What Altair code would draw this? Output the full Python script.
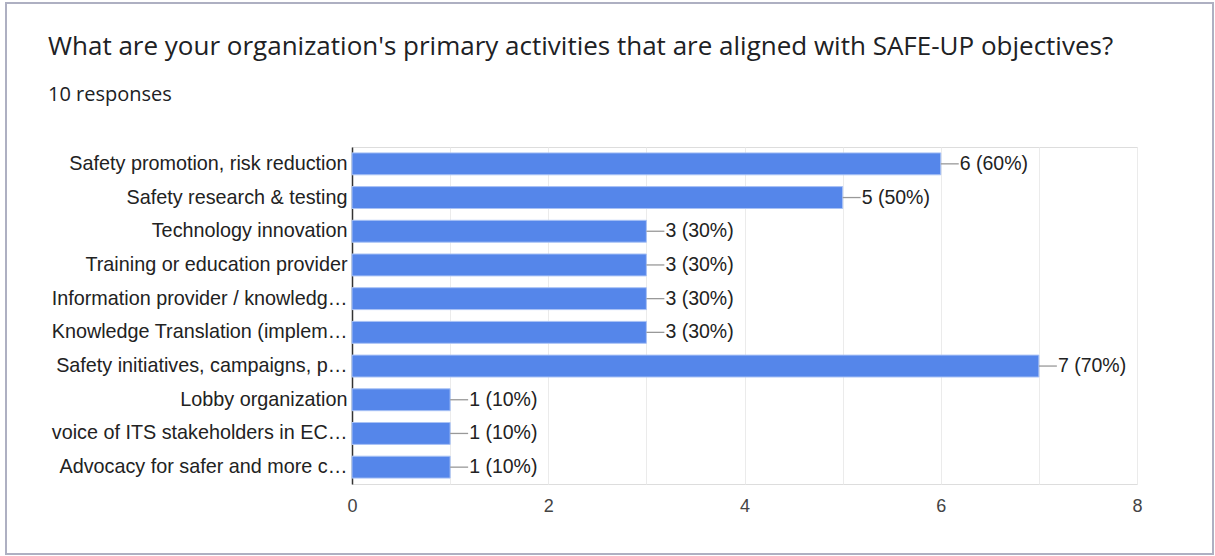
import altair as alt
import pandas as pd

categories = [
    "Safety promotion, risk reduction",
    "Safety research & testing",
    "Technology innovation",
    "Training or education provider",
    "Information provider / knowledg…",
    "Knowledge Translation (implem…",
    "Safety initiatives, campaigns, p…",
    "Lobby organization",
    "voice of ITS stakeholders in EC…",
    "Advocacy for safer and more c…",
]
counts = [6, 5, 3, 3, 3, 3, 7, 1, 1, 1]
percents = [60, 50, 30, 30, 30, 30, 70, 10, 10, 10]
x_ticks = [0, 1, 2, 3, 4, 5, 6, 7, 8]
title_text = "What are your organization's primary activities that are aligned with SAFE-UP objectives?"
subtitle_text = "10 responses"

df = pd.DataFrame({"cat": categories, "count": counts, "pct": percents})
df["label"] = [f"{c} ({p}%)" for c, p in zip(counts, percents)]

W, H = 785, 337
LEFT, TOP = 352, 147

y_enc = alt.Y(
    "cat:N",
    sort=categories,
    title=None,
    scale=alt.Scale(paddingInner=0.35, paddingOuter=0.175),
    axis=alt.Axis(
        labelFont="Liberation Sans", labelFontSize=19.8, labelColor="#222222",
        labelPadding=5, ticks=False, domainColor="#333333", domainWidth=1.5,
        labelLimit=340,
    ),
)
x_enc = alt.X(
    "count:Q",
    title=None,
    scale=alt.Scale(domain=[0, 8], nice=False),
    axis=alt.Axis(
        values=x_ticks, format="d",
        labelExpr="datum.value % 2 == 0 ? datum.label : ''",
        labelFont="Liberation Sans", labelFontSize=18, labelColor="#444444",
        labelPadding=13, ticks=False, domain=False, labelFlush=False,
        grid=True, gridColor="#ebebeb", gridWidth=1,
    ),
)

base = alt.Chart(df)

bars = base.mark_bar(color="#5586ea", stroke="#a9c2f5", strokeWidth=1).encode(
    x=x_enc, y=y_enc
)

leaders = base.mark_rule(color="#999999", strokeWidth=1.3, x2Offset=18).encode(
    x="count:Q", x2="count:Q", y=alt.Y("cat:N", sort=categories, bandPosition=0.5)
)

labels = base.mark_text(
    align="left", baseline="middle", dx=19, font="Liberation Sans",
    fontSize=19.5, color="#222222",
).encode(x="count:Q", y=alt.Y("cat:N", sort=categories, bandPosition=0.5), text="label:N")

frame = base.mark_rect(
    fill=None, stroke="#aeb0c2", strokeWidth=2, filled=False
).encode(
    x=alt.value(6 - LEFT), x2=alt.value(1213 - LEFT),
    y=alt.value(3 - TOP), y2=alt.value(554 - TOP),
)

title = alt.Chart(pd.DataFrame({"t": [title_text]})).mark_text(
    align="left", baseline="middle", font="Open Sans", fontSize=26, color="#202124"
).encode(x=alt.value(48 - LEFT), y=alt.value(47 - TOP), text="t:N")

subtitle = alt.Chart(pd.DataFrame({"t": [subtitle_text]})).mark_text(
    align="left", baseline="middle", font="Open Sans", fontSize=20, color="#202124"
).encode(x=alt.value(48 - LEFT), y=alt.value(95 - TOP), text="t:N")

chart = alt.layer(frame, bars, leaders, labels, title, subtitle).properties(
    width=W, height=H,
    padding={"left": LEFT, "top": TOP, "right": 1215 - LEFT - W, "bottom": 556 - TOP - H},
    autosize=alt.AutoSizeParams(type="none"),
).configure_view(stroke="#ebebeb", strokeWidth=2).configure(background="white")

chart.save("out.html", embed_options={"renderer": "svg", "actions": False})
